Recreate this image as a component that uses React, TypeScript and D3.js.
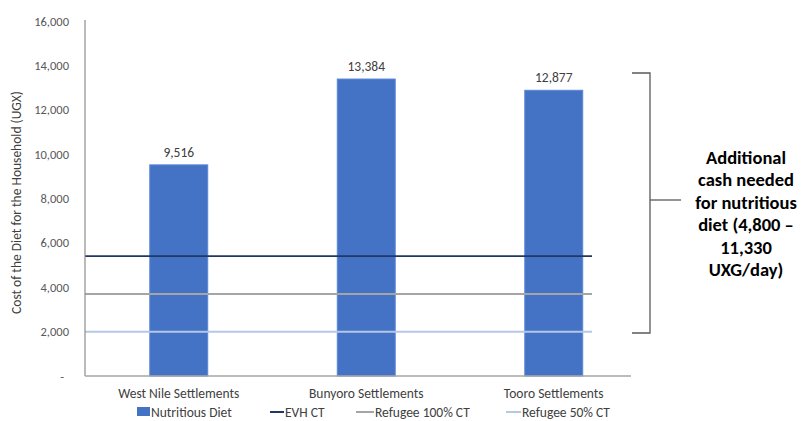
import React from "react";
import * as d3 from "d3";

const categories = ["West Nile Settlements", "Bunyoro Settlements", "Tooro Settlements"];
const nutritiousDiet = [9516, 13384, 12877];
const refLineNames = ["EVH CT", "Refugee 100% CT", "Refugee 50% CT"];
const refLineValues = [5400, 3700, 2000];
const refLineColors = ["#1F3864", "#A5A5A5", "#B4C7E7"];
const yTicks = [0, 2000, 4000, 6000, 8000, 10000, 12000, 14000, 16000];
const annotationLines = ["Additional", "cash needed", "for nutritious", "diet (4,800 –", "11,330", "UXG/day)"];

export default function App() {
  const W = 804, H = 421;
  const y = d3.scaleLinear().domain([0, 16000]).range([376, 21]);
  const x = d3.scaleBand<string>().domain(categories).range([85, 647.5]).paddingInner(0.691).paddingOuter(0.3455);
  const fmt = d3.format(",");
  const font = "Calibri, Carlito, 'Liberation Sans', Arial, sans-serif";
  const lineX0 = 85, lineX1 = 592;
  const legendItems = [
    { name: "Nutritious Diet", type: "rect", color: "#4472C4", x: 137, w: 13, tx: 151 },
    { name: refLineNames[0], type: "line", color: refLineColors[0], x: 270, w: 14, tx: 285 },
    { name: refLineNames[1], type: "line", color: refLineColors[1], x: 356, w: 18, tx: 375 },
    { name: refLineNames[2], type: "line", color: refLineColors[2], x: 506, w: 15, tx: 522 },
  ];
  const bTop = 73, bBot = 333, bMid = 200;
  return (
    <svg width={W} height={H} style={{ display: "block", position: "absolute", left: 0, top: 0, background: "#fff" }} fontFamily={font}>
      <rect x={0} y={0} width={W} height={H} fill="#fff" />
      {yTicks.map((t) => (
        <text key={t} x={t === 0 ? 64 : 69} y={y(t) + 4.5} textAnchor="end" fontSize={12.5} fill="#595959">
          {t === 0 ? "-" : fmt(t)}
        </text>
      ))}
      <text transform={`translate(21,${(85 + 320) / 2}) rotate(-90)`} textAnchor="middle" fontSize={13.5} fill="#404040">
        Cost of the Diet for the Household (UGX)
      </text>
      {categories.map((c, i) => (
        <g key={c}>
          <rect x={x(c)} y={y(nutritiousDiet[i])} width={x.bandwidth()} height={y(0) - y(nutritiousDiet[i])} fill="#4472C4" stroke="#5B86D6" strokeWidth={1} />
          <text x={(x(c) as number) + x.bandwidth() / 2} y={y(nutritiousDiet[i]) - 8} textAnchor="middle" fontSize={13.5} fill="#404040">
            {fmt(nutritiousDiet[i])}
          </text>
          <text x={(x(c) as number) + x.bandwidth() / 2} y={398} textAnchor="middle" fontSize={13.5} fill="#404040">
            {c}
          </text>
        </g>
      ))}
      {refLineValues.map((v, i) => (
        <line key={i} x1={lineX0} x2={lineX1} y1={y(v)} y2={y(v)} stroke={refLineColors[i]} strokeWidth={i === 0 ? 1.8 : 2} />
      ))}
      <line x1={85} x2={85} y1={20} y2={376} stroke="#8C8C8C" strokeWidth={1.2} />
      <line x1={85} x2={631} y1={376} y2={376} stroke="#A6A6A6" strokeWidth={1.5} />
      {legendItems.map((d) => (
        <g key={d.name}>
          {d.type === "rect" ? (
            <rect x={d.x} y={407} width={d.w} height={9} fill={d.color} />
          ) : (
            <line x1={d.x} x2={d.x + d.w} y1={412} y2={412} stroke={d.color} strokeWidth={2} />
          )}
          <text x={d.tx} y={417} fontSize={13.5} fill="#404040">{d.name}</text>
        </g>
      ))}
      <path d={`M632,${bTop} H650 V${bBot} H632`} fill="none" stroke="#595959" strokeWidth={1.3} />
      <line x1={650} x2={681} y1={bMid} y2={bMid} stroke="#595959" strokeWidth={1.3} />
      {annotationLines.map((l, i) => (
        <text key={i} x={746} y={164 + i * 22.4} textAnchor="middle" fontSize={18.5} fontWeight="bold" fill="#000">
          {l}
        </text>
      ))}
    </svg>
  );
}
